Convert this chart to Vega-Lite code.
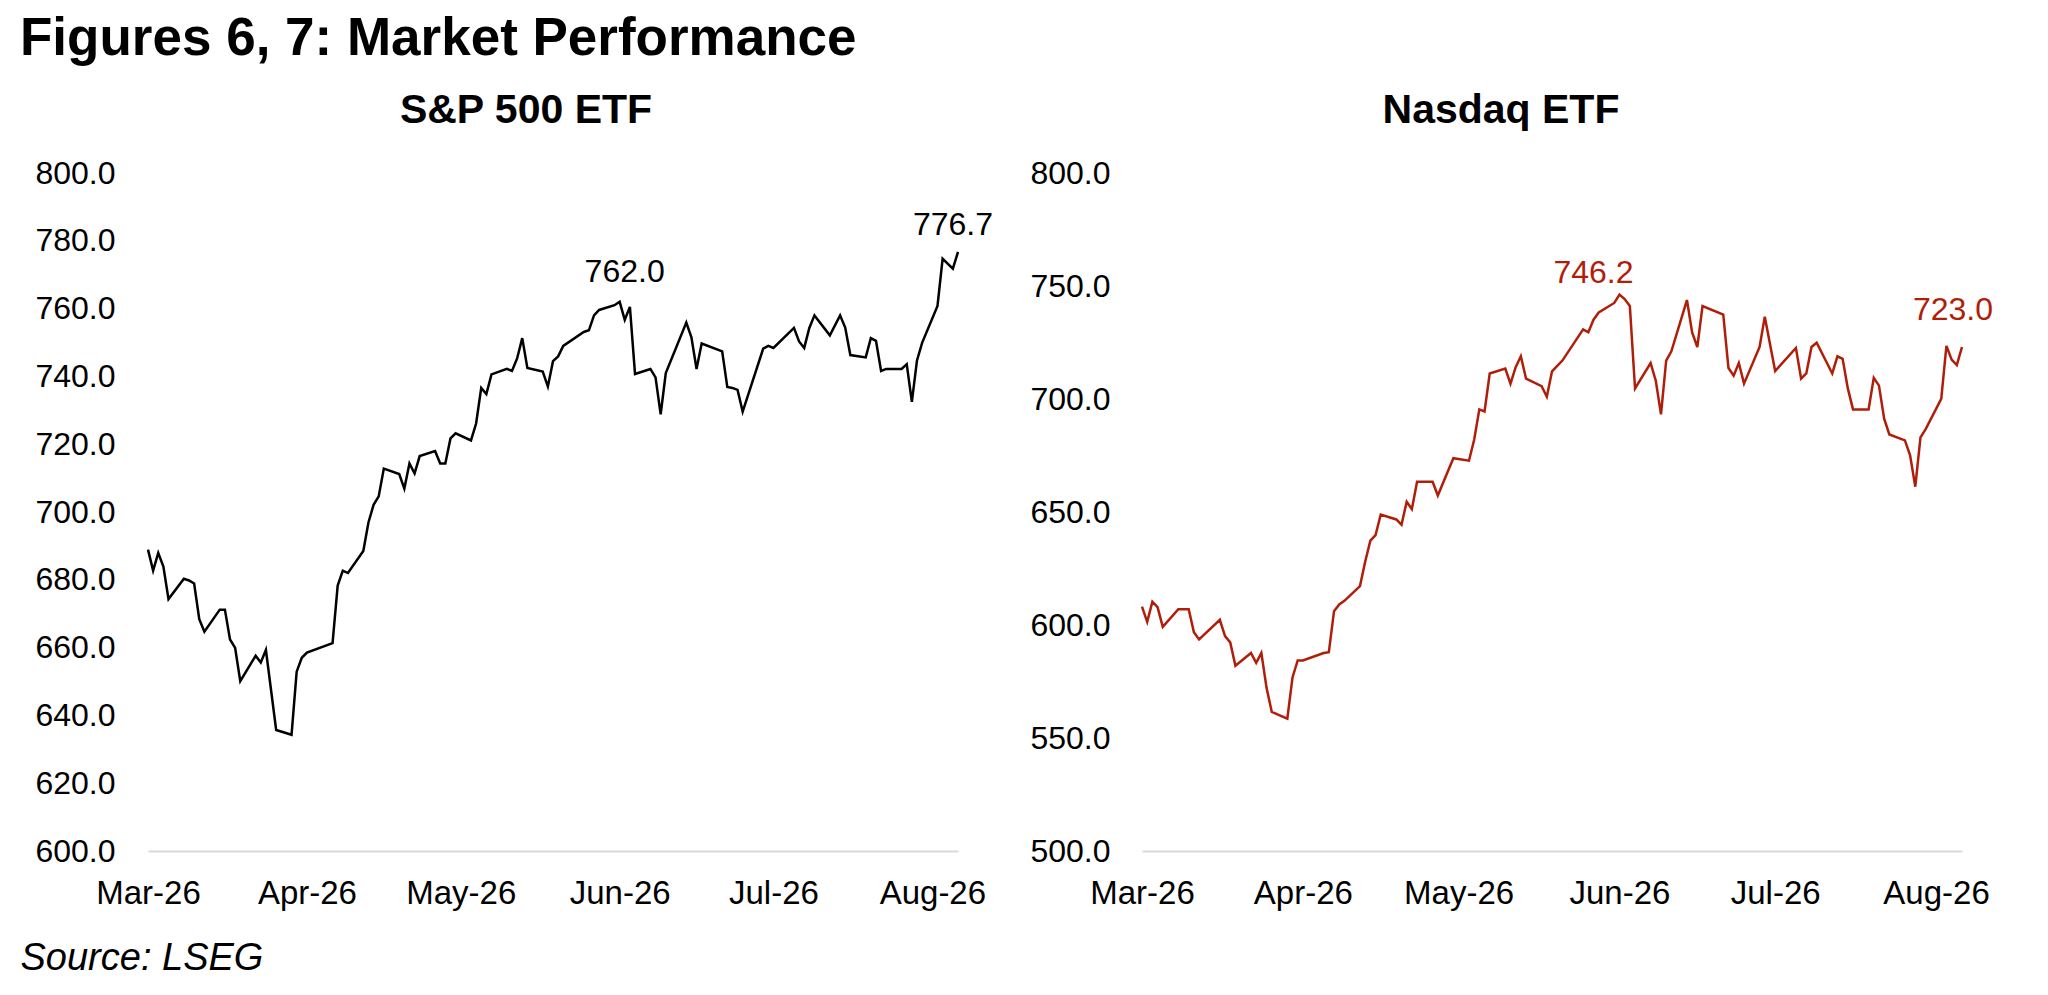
{
  "$schema": "https://vega.github.io/schema/vega-lite/v6.json",
  "background": "white",
  "padding": {"left": 20, "top": 13, "right": 10, "bottom": 10},
  "title": {
    "text": "Figures 6, 7: Market Performance",
    "anchor": "start",
    "frame": "bounds",
    "font": "Liberation Sans",
    "fontSize": 53,
    "fontWeight": "bold",
    "color": "black",
    "baseline": "alphabetic",
    "offset": -18
  },
  "config": {
    "view": {"stroke": null},
    "font": "Liberation Sans",
    "axis": {
      "labelFont": "Liberation Sans",
      "titleFont": "Liberation Sans",
      "labelColor": "black",
      "titleColor": "black",
      "grid": false,
      "ticks": false,
      "tickSize": 0
    },
    "title": {"font": "Liberation Sans", "color": "black"}
  },
  "datasets": {
    "sp": [
      {"date": "2026-03-02", "value": 688.9},
      {"date": "2026-03-03", "value": 682.7},
      {"date": "2026-03-04", "value": 687.9},
      {"date": "2026-03-05", "value": 683.9},
      {"date": "2026-03-06", "value": 674.3},
      {"date": "2026-03-09", "value": 680.3},
      {"date": "2026-03-10", "value": 679.8},
      {"date": "2026-03-11", "value": 678.9},
      {"date": "2026-03-12", "value": 668.4},
      {"date": "2026-03-13", "value": 664.7},
      {"date": "2026-03-16", "value": 671.2},
      {"date": "2026-03-17", "value": 671.2},
      {"date": "2026-03-18", "value": 662.4},
      {"date": "2026-03-19", "value": 659.9},
      {"date": "2026-03-20", "value": 650.1},
      {"date": "2026-03-23", "value": 657.6},
      {"date": "2026-03-24", "value": 655.6},
      {"date": "2026-03-25", "value": 659.3},
      {"date": "2026-03-27", "value": 635.7},
      {"date": "2026-03-30", "value": 634.3},
      {"date": "2026-03-31", "value": 652.9},
      {"date": "2026-04-01", "value": 657.0},
      {"date": "2026-04-02", "value": 658.5},
      {"date": "2026-04-07", "value": 661.3},
      {"date": "2026-04-08", "value": 678.3},
      {"date": "2026-04-09", "value": 682.7},
      {"date": "2026-04-10", "value": 682.0},
      {"date": "2026-04-13", "value": 688.5},
      {"date": "2026-04-14", "value": 696.9},
      {"date": "2026-04-15", "value": 702.1},
      {"date": "2026-04-16", "value": 704.6},
      {"date": "2026-04-17", "value": 712.8},
      {"date": "2026-04-20", "value": 711.2},
      {"date": "2026-04-21", "value": 706.9},
      {"date": "2026-04-22", "value": 714.3},
      {"date": "2026-04-23", "value": 711.4},
      {"date": "2026-04-24", "value": 716.5},
      {"date": "2026-04-27", "value": 718.0},
      {"date": "2026-04-28", "value": 714.3},
      {"date": "2026-04-29", "value": 714.3},
      {"date": "2026-04-30", "value": 721.7},
      {"date": "2026-05-01", "value": 723.2},
      {"date": "2026-05-04", "value": 721.1},
      {"date": "2026-05-05", "value": 726.1},
      {"date": "2026-05-06", "value": 736.6},
      {"date": "2026-05-07", "value": 734.8},
      {"date": "2026-05-08", "value": 740.6},
      {"date": "2026-05-11", "value": 742.2},
      {"date": "2026-05-12", "value": 741.6},
      {"date": "2026-05-13", "value": 745.3},
      {"date": "2026-05-14", "value": 751.3},
      {"date": "2026-05-15", "value": 742.5},
      {"date": "2026-05-18", "value": 741.4},
      {"date": "2026-05-19", "value": 737.0},
      {"date": "2026-05-20", "value": 744.5},
      {"date": "2026-05-21", "value": 745.9},
      {"date": "2026-05-22", "value": 749.0},
      {"date": "2026-05-26", "value": 753.1},
      {"date": "2026-05-27", "value": 753.6},
      {"date": "2026-05-28", "value": 758.0},
      {"date": "2026-05-29", "value": 759.6},
      {"date": "2026-06-01", "value": 761.0},
      {"date": "2026-06-02", "value": 762.0},
      {"date": "2026-06-03", "value": 756.7},
      {"date": "2026-06-04", "value": 760.5},
      {"date": "2026-06-05", "value": 740.7},
      {"date": "2026-06-08", "value": 742.2},
      {"date": "2026-06-09", "value": 739.7},
      {"date": "2026-06-10", "value": 728.8},
      {"date": "2026-06-11", "value": 741.0},
      {"date": "2026-06-15", "value": 755.9},
      {"date": "2026-06-16", "value": 751.5},
      {"date": "2026-06-17", "value": 742.2},
      {"date": "2026-06-18", "value": 749.7},
      {"date": "2026-06-22", "value": 747.4},
      {"date": "2026-06-23", "value": 736.9},
      {"date": "2026-06-24", "value": 736.6},
      {"date": "2026-06-25", "value": 736.0},
      {"date": "2026-06-26", "value": 729.6},
      {"date": "2026-06-30", "value": 748.2},
      {"date": "2026-07-01", "value": 749.0},
      {"date": "2026-07-02", "value": 748.4},
      {"date": "2026-07-06", "value": 754.3},
      {"date": "2026-07-07", "value": 750.3},
      {"date": "2026-07-08", "value": 748.4},
      {"date": "2026-07-09", "value": 754.3},
      {"date": "2026-07-10", "value": 758.0},
      {"date": "2026-07-13", "value": 752.1},
      {"date": "2026-07-15", "value": 758.0},
      {"date": "2026-07-16", "value": 754.4},
      {"date": "2026-07-17", "value": 746.3},
      {"date": "2026-07-20", "value": 745.6},
      {"date": "2026-07-21", "value": 751.3},
      {"date": "2026-07-22", "value": 750.5},
      {"date": "2026-07-23", "value": 741.6},
      {"date": "2026-07-24", "value": 742.2},
      {"date": "2026-07-27", "value": 742.2},
      {"date": "2026-07-28", "value": 743.6},
      {"date": "2026-07-29", "value": 732.5},
      {"date": "2026-07-30", "value": 744.7},
      {"date": "2026-07-31", "value": 749.9},
      {"date": "2026-08-03", "value": 760.8},
      {"date": "2026-08-04", "value": 774.7},
      {"date": "2026-08-06", "value": 771.8},
      {"date": "2026-08-07", "value": 776.7}
    ],
    "nq": [
      {"date": "2026-03-02", "value": 608.1},
      {"date": "2026-03-03", "value": 601.4},
      {"date": "2026-03-04", "value": 610.3},
      {"date": "2026-03-05", "value": 607.9},
      {"date": "2026-03-06", "value": 599.2},
      {"date": "2026-03-09", "value": 607.0},
      {"date": "2026-03-10", "value": 607.0},
      {"date": "2026-03-11", "value": 607.0},
      {"date": "2026-03-12", "value": 596.8},
      {"date": "2026-03-13", "value": 593.6},
      {"date": "2026-03-17", "value": 602.3},
      {"date": "2026-03-18", "value": 595.1},
      {"date": "2026-03-19", "value": 592.3},
      {"date": "2026-03-20", "value": 582.0},
      {"date": "2026-03-23", "value": 587.6},
      {"date": "2026-03-24", "value": 583.3},
      {"date": "2026-03-25", "value": 587.6},
      {"date": "2026-03-26", "value": 572.2},
      {"date": "2026-03-27", "value": 561.6},
      {"date": "2026-03-30", "value": 558.6},
      {"date": "2026-03-31", "value": 576.8},
      {"date": "2026-04-01", "value": 584.3},
      {"date": "2026-04-02", "value": 584.3},
      {"date": "2026-04-06", "value": 587.6},
      {"date": "2026-04-07", "value": 588.0},
      {"date": "2026-04-08", "value": 606.1},
      {"date": "2026-04-09", "value": 609.1},
      {"date": "2026-04-10", "value": 610.7},
      {"date": "2026-04-13", "value": 617.2},
      {"date": "2026-04-14", "value": 628.0},
      {"date": "2026-04-15", "value": 637.3},
      {"date": "2026-04-16", "value": 639.8},
      {"date": "2026-04-17", "value": 648.9},
      {"date": "2026-04-20", "value": 646.7},
      {"date": "2026-04-21", "value": 644.4},
      {"date": "2026-04-22", "value": 654.5},
      {"date": "2026-04-23", "value": 651.3},
      {"date": "2026-04-24", "value": 663.4},
      {"date": "2026-04-27", "value": 663.4},
      {"date": "2026-04-28", "value": 657.3},
      {"date": "2026-04-30", "value": 668.4},
      {"date": "2026-05-01", "value": 673.8},
      {"date": "2026-05-04", "value": 672.7},
      {"date": "2026-05-05", "value": 682.0},
      {"date": "2026-05-06", "value": 695.4},
      {"date": "2026-05-07", "value": 694.5},
      {"date": "2026-05-08", "value": 711.3},
      {"date": "2026-05-11", "value": 713.5},
      {"date": "2026-05-12", "value": 706.8},
      {"date": "2026-05-13", "value": 714.1},
      {"date": "2026-05-14", "value": 718.9},
      {"date": "2026-05-15", "value": 709.0},
      {"date": "2026-05-18", "value": 705.7},
      {"date": "2026-05-19", "value": 701.0},
      {"date": "2026-05-20", "value": 712.2},
      {"date": "2026-05-22", "value": 717.0},
      {"date": "2026-05-26", "value": 730.8},
      {"date": "2026-05-27", "value": 729.5},
      {"date": "2026-05-28", "value": 735.1},
      {"date": "2026-05-29", "value": 738.3},
      {"date": "2026-06-01", "value": 742.5},
      {"date": "2026-06-02", "value": 746.2},
      {"date": "2026-06-03", "value": 744.2},
      {"date": "2026-06-04", "value": 741.2},
      {"date": "2026-06-05", "value": 704.7},
      {"date": "2026-06-08", "value": 715.9},
      {"date": "2026-06-09", "value": 708.1},
      {"date": "2026-06-10", "value": 693.2},
      {"date": "2026-06-11", "value": 717.0},
      {"date": "2026-06-12", "value": 721.1},
      {"date": "2026-06-15", "value": 743.8},
      {"date": "2026-06-16", "value": 729.5},
      {"date": "2026-06-17", "value": 723.0},
      {"date": "2026-06-18", "value": 741.1},
      {"date": "2026-06-22", "value": 737.3},
      {"date": "2026-06-23", "value": 713.7},
      {"date": "2026-06-24", "value": 710.3},
      {"date": "2026-06-25", "value": 715.9},
      {"date": "2026-06-26", "value": 706.8},
      {"date": "2026-06-29", "value": 723.0},
      {"date": "2026-06-30", "value": 736.4},
      {"date": "2026-07-02", "value": 712.4},
      {"date": "2026-07-06", "value": 722.6},
      {"date": "2026-07-07", "value": 709.0},
      {"date": "2026-07-08", "value": 711.3},
      {"date": "2026-07-09", "value": 723.0},
      {"date": "2026-07-10", "value": 724.9},
      {"date": "2026-07-13", "value": 711.3},
      {"date": "2026-07-14", "value": 718.9},
      {"date": "2026-07-15", "value": 717.8},
      {"date": "2026-07-16", "value": 704.7},
      {"date": "2026-07-17", "value": 695.4},
      {"date": "2026-07-20", "value": 695.4},
      {"date": "2026-07-21", "value": 709.4},
      {"date": "2026-07-22", "value": 705.9},
      {"date": "2026-07-23", "value": 691.3},
      {"date": "2026-07-24", "value": 684.3},
      {"date": "2026-07-27", "value": 681.7},
      {"date": "2026-07-28", "value": 675.1},
      {"date": "2026-07-29", "value": 661.2},
      {"date": "2026-07-30", "value": 683.0},
      {"date": "2026-07-31", "value": 686.7},
      {"date": "2026-08-03", "value": 700.1},
      {"date": "2026-08-04", "value": 723.5},
      {"date": "2026-08-05", "value": 717.4},
      {"date": "2026-08-06", "value": 715.0},
      {"date": "2026-08-07", "value": 723.0}
    ]
  },
  "bounds": "flush",
  "spacing": 184,
  "hconcat": [
    {
      "width": 810,
      "height": 678,
      "title": {
        "text": "S&P 500 ETF",
        "fontSize": 41,
        "fontWeight": "bold",
        "anchor": "middle",
        "baseline": "alphabetic",
        "dx": -27,
        "offset": -7
      },
      "data": {"name": "sp"},
      "encoding": {
        "x": {
          "field": "date",
          "type": "temporal",
          "scale": {
            "type": "utc",
            "nice": false,
            "domain": [
              {"year": 2026, "month": 3, "date": 2, "utc": true},
              {"year": 2026, "month": 8, "date": 7, "utc": true}
            ]
          },
          "axis": {
            "title": "Source: LSEG",
            "values": [
              {"year": 2026, "month": 3, "date": 2, "utc": true},
              {"year": 2026, "month": 4, "date": 2, "utc": true},
              {"year": 2026, "month": 5, "date": 2, "utc": true},
              {"year": 2026, "month": 6, "date": 2, "utc": true},
              {"year": 2026, "month": 7, "date": 2, "utc": true},
              {"year": 2026, "month": 8, "date": 2, "utc": true}
            ],
            "format": "%b-%y",
            "labelFontSize": 33,
            "labelPadding": 26,
            "labelFlush": false,
            "labelOverlap": false,
            "domainColor": "#d9d9d9",
            "domainWidth": 2,
            "titleFontSize": 38,
            "titleFontStyle": "italic",
            "titleFontWeight": "normal",
            "titleAnchor": "start",
            "titleAlign": "left",
            "titleBaseline": "alphabetic",
            "titleX": -128,
            "titleY": 118
          }
        },
        "y": {
          "field": "value",
          "type": "quantitative",
          "scale": {"domain": [600, 800], "nice": false, "zero": false},
          "axis": {
            "title": null,
            "values": [600, 620, 640, 660, 680, 700, 720, 740, 760, 780, 800],
            "format": ".1f",
            "domain": false,
            "labelFontSize": 32,
            "labelPadding": 33
          }
        }
      },
      "layer": [
        {"mark": {"type": "line", "color": "black", "strokeWidth": 2.5}},
        {
          "transform": [{"filter": "utcmonth(datum.date) == 5 && utcdate(datum.date) == 2"}],
          "mark": {"type": "text", "fontSize": 32, "color": "black", "baseline": "middle", "align": "center", "dx": 5, "dy": -30},
          "encoding": {"text": {"field": "value", "type": "quantitative", "format": ".1f"}}
        },
        {
          "transform": [{"filter": "utcmonth(datum.date) == 7 && utcdate(datum.date) == 7"}],
          "mark": {"type": "text", "fontSize": 32, "color": "black", "baseline": "middle", "align": "center", "dx": -5, "dy": -27},
          "encoding": {"text": {"field": "value", "type": "quantitative", "format": ".1f"}}
        }
      ]
    },
    {
      "width": 820,
      "height": 678,
      "title": {
        "text": "Nasdaq ETF",
        "fontSize": 41,
        "fontWeight": "bold",
        "anchor": "middle",
        "baseline": "alphabetic",
        "dx": -51,
        "offset": -7
      },
      "data": {"name": "nq"},
      "encoding": {
        "x": {
          "field": "date",
          "type": "temporal",
          "scale": {
            "type": "utc",
            "nice": false,
            "domain": [
              {"year": 2026, "month": 3, "date": 2, "utc": true},
              {"year": 2026, "month": 8, "date": 7, "utc": true}
            ]
          },
          "axis": {
            "title": null,
            "values": [
              {"year": 2026, "month": 3, "date": 2, "utc": true},
              {"year": 2026, "month": 4, "date": 2, "utc": true},
              {"year": 2026, "month": 5, "date": 2, "utc": true},
              {"year": 2026, "month": 6, "date": 2, "utc": true},
              {"year": 2026, "month": 7, "date": 2, "utc": true},
              {"year": 2026, "month": 8, "date": 2, "utc": true}
            ],
            "format": "%b-%y",
            "labelFontSize": 33,
            "labelPadding": 26,
            "labelFlush": false,
            "labelOverlap": false,
            "domainColor": "#d9d9d9",
            "domainWidth": 2
          }
        },
        "y": {
          "field": "value",
          "type": "quantitative",
          "scale": {"domain": [500, 800], "nice": false, "zero": false},
          "axis": {
            "title": null,
            "values": [500, 550, 600, 650, 700, 750, 800],
            "format": ".1f",
            "domain": false,
            "labelFontSize": 32,
            "labelPadding": 32
          }
        }
      },
      "layer": [
        {"mark": {"type": "line", "color": "#b01e0a", "strokeWidth": 2.5}},
        {
          "transform": [{"filter": "utcmonth(datum.date) == 5 && utcdate(datum.date) == 2"}],
          "mark": {"type": "text", "fontSize": 32, "color": "#b01e0a", "baseline": "middle", "align": "center", "dx": -26, "dy": -22},
          "encoding": {"text": {"field": "value", "type": "quantitative", "format": ".1f"}}
        },
        {
          "transform": [{"filter": "utcmonth(datum.date) == 7 && utcdate(datum.date) == 7"}],
          "mark": {"type": "text", "fontSize": 32, "color": "#b01e0a", "baseline": "middle", "align": "center", "dx": -9, "dy": -37},
          "encoding": {"text": {"field": "value", "type": "quantitative", "format": ".1f"}}
        }
      ]
    }
  ]
}
